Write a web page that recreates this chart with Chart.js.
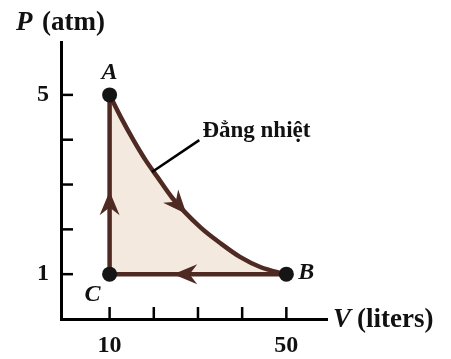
<!DOCTYPE html>
<html lang="vi">
<head>
  <meta charset="UTF-8">
  <title>Chu trình A-B-C</title>
  <script src="https://cdn.jsdelivr.net/npm/chart.js"></script>
  <style>
    html, body { margin: 0; padding: 0; background: #fff; }
    .chart-box { position: relative; width: 451px; height: 359px; }
  </style>
</head>
<body>
  <div class="chart-box">
    <canvas id="cycleChart"></canvas>
  </div>
  <script>
    // Isothermal curve A -> B (V in liters, P in atm)
    const curveV = [10, 12.5, 15.4, 18.1, 20.8, 24.2, 30.5, 35.1, 39.6, 44.1, 48.6, 50];
    const curveP = [5, 4.51, 3.99, 3.55, 3.17, 2.7, 2.05, 1.69, 1.38, 1.16, 1.03, 1];

    // Path B -> C -> A
    const pathV = [50, 10, 10];
    const pathP = [1, 1, 5];

    // State points
    const stateNames = ["A", "B", "C"];
    const stateV = [10, 50, 10];
    const stateP = [5, 1, 1];

    // Axis ticks and the labels shown
    const xTicks = [10, 20, 30, 40, 50];
    const xTickLabels = { 10: "10", 50: "50" };
    const yTicks = [1, 2, 3, 4, 5];
    const yTickLabels = { 1: "1", 5: "5" };

    const curveLabel = "Đẳng nhiệt";

    const brown = "#4e2a22";
    const fillColor = "#f3e9df";
    const serif = "'Liberation Serif', 'DejaVu Serif', serif";

    const toPoints = (xs, ys) => xs.map((x, i) => ({ x: x, y: ys[i] }));

    // barbed arrow head with its tip at (x2, y2)
    function drawArrow(ctx, x1, y1, x2, y2) {
      const ang = Math.atan2(y2 - y1, x2 - x1);
      const len = 24, half = 10;
      const dx = Math.cos(ang), dy = Math.sin(ang);
      ctx.save();
      ctx.fillStyle = brown;
      ctx.beginPath();
      ctx.moveTo(x2, y2);
      ctx.lineTo(x2 - len * dx - half * dy, y2 - len * dy + half * dx);
      ctx.lineTo(x2 - 0.68 * len * dx, y2 - 0.68 * len * dy);
      ctx.lineTo(x2 - len * dx + half * dy, y2 - len * dy - half * dx);
      ctx.closePath();
      ctx.fill();
      ctx.restore();
    }

    const decorPlugin = {
      id: "decor",
      afterDatasetsDraw(chart) {
        const ctx = chart.ctx;
        const xs = chart.scales.x, ys = chart.scales.y;
        const px = v => xs.getPixelForValue(v);
        const py = p => ys.getPixelForValue(p);
        const area = chart.chartArea;

        // arrows along the cycle
        drawArrow(ctx, px(24.2), py(2.7), px(27.4), py(2.34));
        drawArrow(ctx, px(30), py(1), px(24.4), py(1));
        drawArrow(ctx, px(10), py(2.2), px(10), py(2.85));

        // inward tick marks
        ctx.save();
        ctx.strokeStyle = "#000";
        ctx.lineWidth = 2.5;
        xTicks.forEach(v => {
          ctx.beginPath();
          ctx.moveTo(px(v), area.bottom);
          ctx.lineTo(px(v), area.bottom - 12);
          ctx.stroke();
        });
        yTicks.forEach(p => {
          ctx.beginPath();
          ctx.moveTo(area.left, py(p));
          ctx.lineTo(area.left + 12, py(p));
          ctx.stroke();
        });

        // leader line for the isotherm
        ctx.lineWidth = 2.5;
        ctx.beginPath();
        ctx.moveTo(px(19.6), py(3.28));
        ctx.lineTo(px(30.3), py(3.99));
        ctx.stroke();

        ctx.fillStyle = "#111";
        ctx.textBaseline = "alphabetic";
        ctx.textAlign = "left";
        ctx.font = "bold 23px " + serif;
        ctx.fillText(curveLabel, px(31), py(4.06));

        // state labels
        ctx.font = "italic bold 24px " + serif;
        ctx.textAlign = "center";
        ctx.textBaseline = "middle";
        const offsets = { A: [0, -22], B: [20, -1], C: [-17, 21] };
        stateNames.forEach((n, i) => {
          const o = offsets[n];
          ctx.fillText(n, px(stateV[i]) + o[0], py(stateP[i]) + o[1]);
        });

        // axis titles
        ctx.textAlign = "left";
        ctx.textBaseline = "alphabetic";
        ctx.font = "italic bold 27px " + serif;
        ctx.fillText("P", 16, area.top - 12);
        ctx.fillText("V", area.right + 6, area.bottom + 8);
        ctx.font = "bold 27px " + serif;
        ctx.fillText("(atm)", 42, area.top - 12);
        ctx.fillText("(liters)", area.right + 30, area.bottom + 8);
        ctx.restore();
      }
    };

    new Chart(document.getElementById("cycleChart"), {
      type: "line",
      data: {
        datasets: [
          {
            label: "states",
            data: toPoints(stateV, stateP),
            showLine: false,
            pointRadius: 7.5,
            pointBackgroundColor: "#151515",
            pointBorderWidth: 0
          },
          {
            label: "path",
            data: toPoints(pathV, pathP),
            borderColor: brown,
            borderWidth: 4.5,
            pointRadius: 0,
            tension: 0,
            fill: false
          },
          {
            label: "isotherm",
            data: toPoints(curveV, curveP),
            borderColor: brown,
            borderWidth: 4.5,
            pointRadius: 0,
            cubicInterpolationMode: "monotone",
            fill: { value: 1 },
            backgroundColor: fillColor
          }
        ]
      },
      options: {
        responsive: true,
        maintainAspectRatio: false,
        animation: false,
        layout: { padding: { top: 42, right: 124, left: 0, bottom: 0 } },
        plugins: {
          legend: { display: false },
          tooltip: { enabled: false }
        },
        scales: {
          x: {
            type: "linear",
            min: -1,
            max: 59.2,
            afterFit: s => { s.height = 40; },
            afterBuildTicks: s => { s.ticks = xTicks.map(v => ({ value: v })); },
            grid: { display: false, drawTicks: false },
            border: { display: true, color: "#000", width: 3 },
            ticks: {
              padding: 12,
              color: "#111",
              maxRotation: 0,
              autoSkip: false,
              font: { family: serif, size: 24, weight: "bold" },
              callback: v => xTickLabels[v] || ""
            }
          },
          y: {
            type: "linear",
            min: 0,
            max: 6.18,
            afterFit: s => { s.width = 61; },
            afterBuildTicks: s => { s.ticks = yTicks.map(v => ({ value: v })); },
            grid: { display: false, drawTicks: false },
            border: { display: true, color: "#000", width: 3 },
            ticks: {
              padding: 12,
              color: "#111",
              autoSkip: false,
              font: { family: serif, size: 24, weight: "bold" },
              callback: v => yTickLabels[v] || ""
            }
          }
        }
      },
      plugins: [decorPlugin]
    });
  </script>
</body>
</html>
